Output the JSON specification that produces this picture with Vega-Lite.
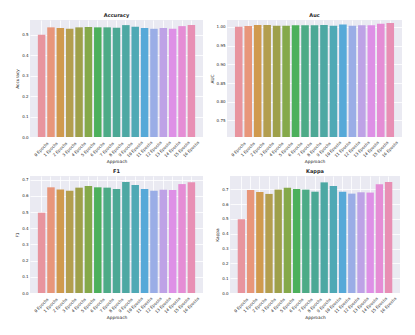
{
  "$schema": "https://vega.github.io/schema/vega-lite/v6.json",
  "padding": {"left": 15, "top": 12, "right": 0, "bottom": 0},
  "datasets": {
    "metrics": [
      {"approach": "0 Epochs", "accuracy": 0.500, "auc": 1.000, "f1": 0.496, "kappa": 0.498},
      {"approach": "1 Epochs", "accuracy": 0.536, "auc": 1.002, "f1": 0.653, "kappa": 0.696},
      {"approach": "2 Epochs", "accuracy": 0.533, "auc": 1.005, "f1": 0.640, "kappa": 0.682},
      {"approach": "3 Epochs", "accuracy": 0.529, "auc": 1.005, "f1": 0.632, "kappa": 0.669},
      {"approach": "4 Epochs", "accuracy": 0.536, "auc": 1.003, "f1": 0.651, "kappa": 0.698},
      {"approach": "5 Epochs", "accuracy": 0.538, "auc": 1.003, "f1": 0.661, "kappa": 0.711},
      {"approach": "6 Epochs", "accuracy": 0.536, "auc": 1.004, "f1": 0.653, "kappa": 0.702},
      {"approach": "7 Epochs", "accuracy": 0.536, "auc": 1.004, "f1": 0.651, "kappa": 0.698},
      {"approach": "8 Epochs", "accuracy": 0.534, "auc": 1.004, "f1": 0.642, "kappa": 0.684},
      {"approach": "9 Epochs", "accuracy": 0.547, "auc": 1.005, "f1": 0.686, "kappa": 0.747},
      {"approach": "10 Epochs", "accuracy": 0.539, "auc": 1.003, "f1": 0.667, "kappa": 0.722},
      {"approach": "11 Epochs", "accuracy": 0.533, "auc": 1.006, "f1": 0.642, "kappa": 0.684},
      {"approach": "12 Epochs", "accuracy": 0.529, "auc": 1.003, "f1": 0.632, "kappa": 0.671},
      {"approach": "13 Epochs", "accuracy": 0.533, "auc": 1.004, "f1": 0.638, "kappa": 0.680},
      {"approach": "14 Epochs", "accuracy": 0.529, "auc": 1.004, "f1": 0.636, "kappa": 0.678},
      {"approach": "15 Epochs", "accuracy": 0.542, "auc": 1.008, "f1": 0.673, "kappa": 0.734},
      {"approach": "16 Epochs", "accuracy": 0.547, "auc": 1.010, "f1": 0.684, "kappa": 0.749}
    ]
  },
  "vconcat": [
    {
      "hconcat": [
        {
          "title": "Accuracy",
          "width": 173, "height": 117,
          "data": {"name": "metrics"},
          "mark": {"type": "bar"},
          "encoding": {
            "x": {"field": "approach", "type": "nominal", "sort": null, "title": "Approach",
                  "scale": {"paddingInner": 0.2, "paddingOuter": 0.84}},
            "y": {"field": "accuracy", "type": "quantitative", "title": "Accuracy",
                  "scale": {"domain": [0, 0.572], "nice": false},
                  "axis": {"values": [0, 0.1, 0.2, 0.3, 0.4, 0.5], "format": ".1f"}},
            "color": {"field": "approach", "type": "nominal", "sort": null, "legend": null}
          }
        },
        {
          "title": "Auc",
          "width": 175, "height": 117,
          "data": {"name": "metrics"},
          "mark": {"type": "bar", "clip": true},
          "encoding": {
            "x": {"field": "approach", "type": "nominal", "sort": null, "title": "Approach",
                  "scale": {"paddingInner": 0.2, "paddingOuter": 0.84}},
            "y": {"field": "auc", "type": "quantitative", "title": "AUC",
                  "scale": {"domain": [0.706, 1.018], "nice": false, "zero": false},
                  "axis": {"values": [0.75, 0.8, 0.85, 0.9, 0.95, 1.0], "format": ".2f"}},
            "color": {"field": "approach", "type": "nominal", "sort": null, "legend": null}
          }
        }
      ],
      "spacing": 7
    },
    {
      "hconcat": [
        {
          "title": "F1",
          "width": 173, "height": 117,
          "data": {"name": "metrics"},
          "mark": {"type": "bar"},
          "encoding": {
            "x": {"field": "approach", "type": "nominal", "sort": null, "title": "Approach",
                  "scale": {"paddingInner": 0.2, "paddingOuter": 0.84}},
            "y": {"field": "f1", "type": "quantitative", "title": "F1",
                  "scale": {"domain": [0, 0.723], "nice": false},
                  "axis": {"values": [0, 0.1, 0.2, 0.3, 0.4, 0.5, 0.6, 0.7], "format": ".1f"}},
            "color": {"field": "approach", "type": "nominal", "sort": null, "legend": null}
          }
        },
        {
          "title": "Kappa",
          "width": 170, "height": 117,
          "data": {"name": "metrics"},
          "mark": {"type": "bar"},
          "encoding": {
            "x": {"field": "approach", "type": "nominal", "sort": null, "title": "Approach",
                  "scale": {"paddingInner": 0.2, "paddingOuter": 0.84}},
            "y": {"field": "kappa", "type": "quantitative", "title": "Kappa",
                  "scale": {"domain": [0, 0.79], "nice": false},
                  "axis": {"values": [0, 0.1, 0.2, 0.3, 0.4, 0.5, 0.6, 0.7], "format": ".1f"}},
            "color": {"field": "approach", "type": "nominal", "sort": null, "legend": null}
          }
        }
      ],
      "spacing": 12
    }
  ],
  "spacing": 3,
  "resolve": {"scale": {"color": "shared"}},
  "config": {
    "font": "DejaVu Sans",
    "view": {"fill": "#EAEAF2", "stroke": null},
    "range": {"category": ["#E8949E", "#E8967A", "#D09A4E", "#B39E4E", "#9EA04A", "#85A94A", "#4CB05C", "#4DAB87", "#4CA895", "#4DA8A3", "#4FA9B5", "#56A9D8", "#9AADE6", "#BEA2E6", "#DE90E6", "#E58DD5", "#E88FB4"]},
    "axis": {"domain": false, "ticks": false, "grid": true, "gridColor": "white", "gridWidth": 0.8,
             "labelFont": "DejaVu Sans", "labelFontSize": 4, "labelColor": "#262626", "labelPadding": 2,
             "titleFont": "DejaVu Sans", "titleFontSize": 4.3, "titleFontWeight": "normal", "titleColor": "#262626", "titlePadding": 2},
    "axisX": {"labelAngle": -45, "labelAlign": "center", "labelBaseline": "middle", "labelPadding": 12, "bandPosition": 0.5},
    "title": {"fontSize": 5, "fontWeight": "bold", "color": "#262626", "offset": 2.5, "font": "DejaVu Sans"}
  }
}
